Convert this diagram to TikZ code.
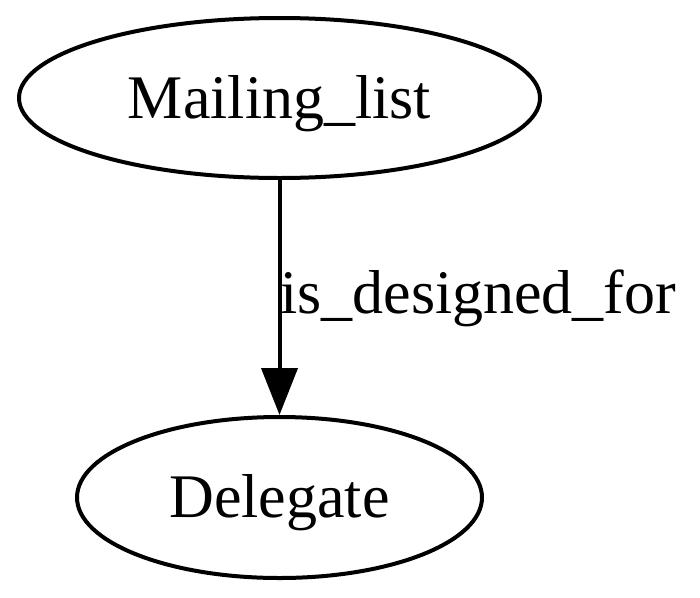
\documentclass[tikz,border=0pt]{standalone}
\usepackage{fontspec}
\setmainfont{Liberation Serif}
\usetikzlibrary{shapes.geometric, arrows.meta}
\pgfdeclarelayer{edgelayer}
\pgfdeclarelayer{nodelayer}
\pgfsetlayers{edgelayer,nodelayer,main}
\tikzstyle{edge}=[draw=black, line width=4pt, -{Triangle[length=47pt,width=36pt]}]
\tikzstyle{vertex}=[ellipse, fill=white, draw=black, line width=4pt, inner sep=0pt, text height=44pt, text depth=4pt, font=\fontsize{62}{74}\selectfont]
\tikzstyle{label}=[inner sep=0pt, font=\fontsize{62}{74}\selectfont]

\begin{document}
\begin{tikzpicture}[x=1pt, y=-1pt]
			\useasboundingbox (0, 0) rectangle (700, 597);
			\begin{pgfonlayer}{nodelayer}
			\node [style=vertex, minimum width=521pt, minimum height=160pt] (0) at (279.5, 98) {Mailing\_list};
			\node [style=vertex, minimum width=405pt, minimum height=161pt] (1) at (279.5, 497.5) {Delegate};
			\node [style=label, anchor=base west] (2) at (280, 313) {is\_designed\_for};
			\end{pgfonlayer}
			\begin{pgfonlayer}{edgelayer}
			\draw [style=edge] (0) to (1);
			\end{pgfonlayer}
			\end{tikzpicture}
\end{document}
